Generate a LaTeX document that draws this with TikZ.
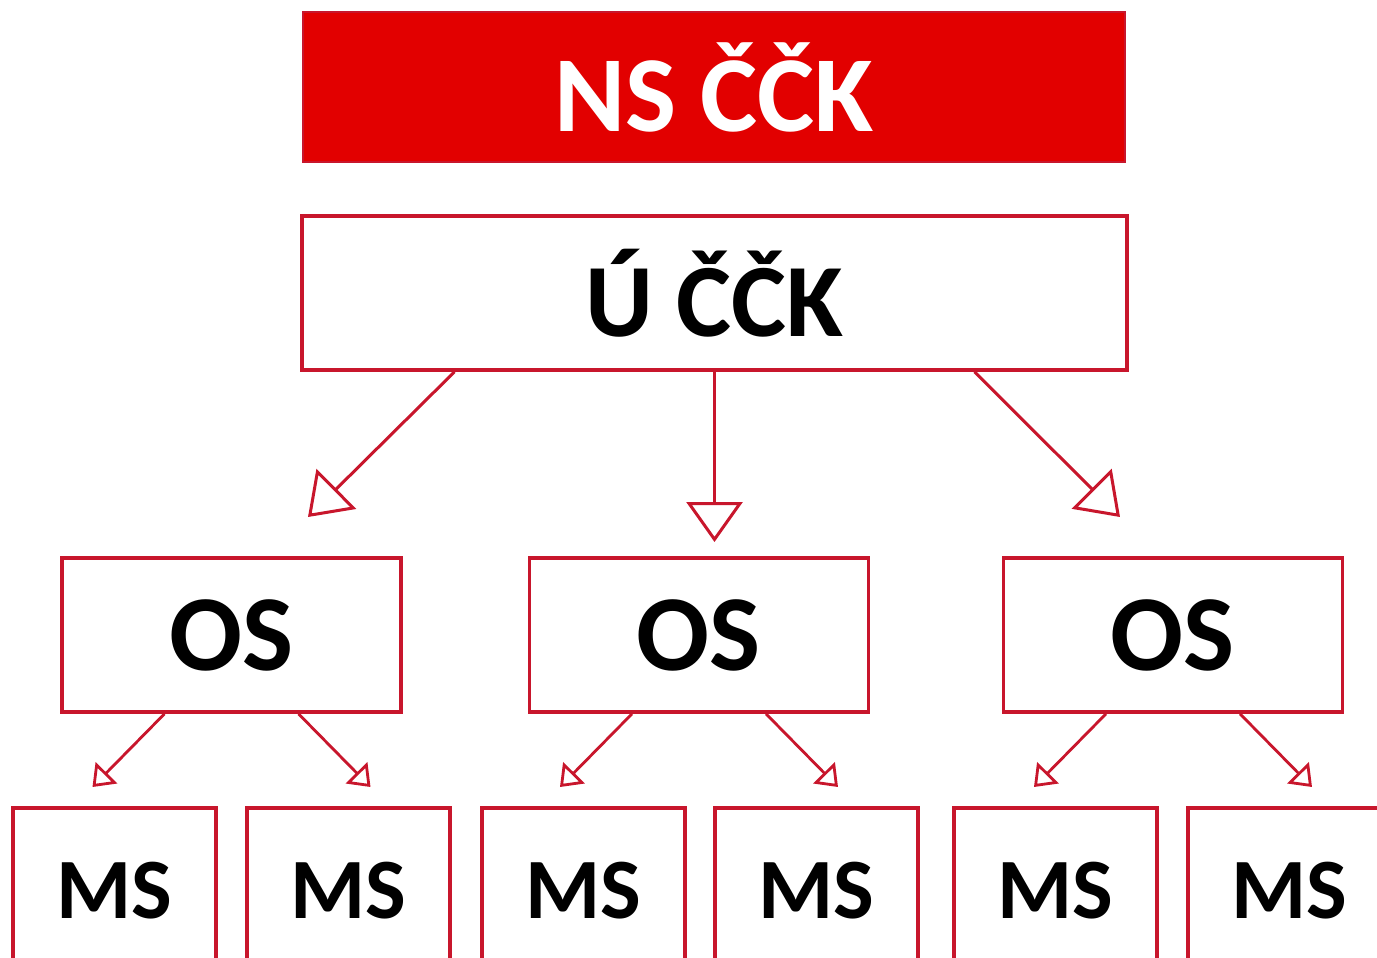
\documentclass[tikz,border=0pt]{standalone}
\usepackage{fontspec}
\setmainfont{Carlito}
\usetikzlibrary{arrows.meta, positioning}
\definecolor{ckred}{RGB}{200,22,44}
\definecolor{ckfill}{RGB}{226,0,0}

\begin{document}
\begin{tikzpicture}[x=0.5pt, y=-0.5pt,
    box/.style = {draw=ckred, line width=1.8pt, fill=white, inner sep=0pt},
    head/.style = {box, fill=ckfill, line width=1pt, text=white, minimum width=411pt, minimum height=75pt, font=\fontsize{54}{60}\selectfont\bfseries},
    main/.style = {box, minimum width=412.5pt, minimum height=77pt, font=\fontsize{52}{60}\selectfont\bfseries},
    os/.style = {box, minimum width=169.5pt, minimum height=77pt, font=\fontsize{54}{60}\selectfont\bfseries},
    ms/.style = {box, minimum width=101.5pt, minimum height=83pt, font=\fontsize{43}{50}\selectfont\bfseries},
    arr/.style = {draw=ckred, line width=1.5pt, -{Triangle[open, length=20pt, width=28pt, line width=1.5pt]}},
    sarr/.style = {draw=ckred, line width=1.4pt, -{Triangle[open, length=10pt, width=15pt, line width=1.4pt]}}]
    \useasboundingbox (0,0) rectangle (1377,958);
    \clip (0,0) rectangle (1377,958);
    \fill[white] (0,0) rectangle (1377,958);

    \node[head] (ns) at (714,87) {NS ČČK};
    \node[main] (uc) at (714.5,293) {Ú ČČK};

    \node[os] (os1) at (231.5,635) {OS};
    \node[os] (os2) at (699,635) {OS};
    \node[os] (os3) at (1173,635) {OS};

    % bottom row runs off the page
    \node[ms] (ms1) at (114.5,891) {MS};
    \node[ms] (ms2) at (348.5,891) {MS};
    \node[ms] (ms3) at (583.5,891) {MS};
    \node[ms] (ms4) at (816.5,891) {MS};
    \node[ms] (ms5) at (1055.5,891) {MS};
    \node[ms] (ms6) at (1289.5,891) {MS};

    % arrow tips, above the boxes
    \coordinate (t1) at (308,517);
    \coordinate (t2) at (714.5,542);
    \coordinate (t3) at (1120,517);
    \coordinate (t11) at (92.5,787);
    \coordinate (t12) at (370.5,787);
    \coordinate (t21) at (560,787);
    \coordinate (t22) at (838,787);
    \coordinate (t31) at (1034,787);
    \coordinate (t32) at (1312,787);

    \draw[arr] ([xshift=-130pt]uc.south) -- (t1);
    \draw[arr] (uc.south) -- (t2);
    \draw[arr] ([xshift=130pt]uc.south) -- (t3);

    \draw[sarr] ([xshift=-33.5pt]os1.south) -- (t11);
    \draw[sarr] ([xshift=33.5pt]os1.south) -- (t12);
    \draw[sarr] ([xshift=-33.5pt]os2.south) -- (t21);
    \draw[sarr] ([xshift=33.5pt]os2.south) -- (t22);
    \draw[sarr] ([xshift=-33.5pt]os3.south) -- (t31);
    \draw[sarr] ([xshift=33.5pt]os3.south) -- (t32);
\end{tikzpicture}
\end{document}
